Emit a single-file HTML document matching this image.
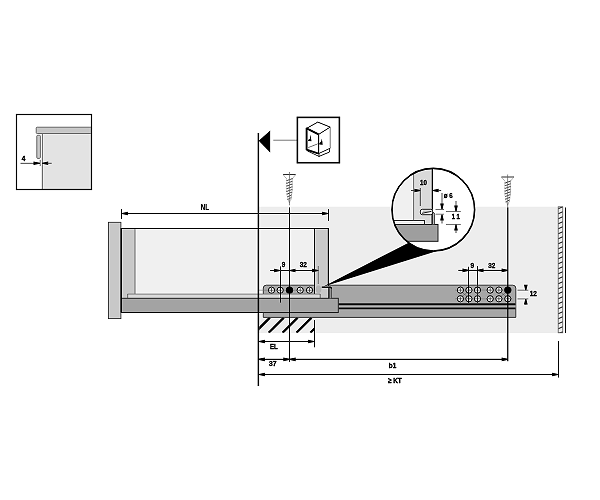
<!DOCTYPE html>
<html><head><meta charset="utf-8"><style>
html,body{margin:0;padding:0;background:#fff;}
svg{display:block;font-family:"Liberation Sans",sans-serif;will-change:transform;}
</style></head><body>
<svg width="600" height="500" viewBox="0 0 600 500">
<defs><filter id="sh" x="0" y="0" width="600" height="500" filterUnits="userSpaceOnUse" color-interpolation-filters="sRGB"><feConvolveMatrix order="3" kernelMatrix="0 -0.16 0 -0.16 1.64 -0.16 0 -0.16 0" preserveAlpha="true"/></filter></defs>
<g filter="url(#sh)"><rect width="600" height="500" fill="#fff"/>
<rect x="42.50" y="133.50" width="49.00" height="56.00" fill="#e3e3e3" stroke="none" stroke-width="1.00" rx="0.00" />
<line x1="42.30" y1="133.50" x2="42.30" y2="189.50" stroke="#666" stroke-width="1.00"/>
<rect x="36.20" y="127.20" width="55.30" height="6.30" fill="#c6c6c6" stroke="#6a6a6a" stroke-width="0.90" rx="1.00" />
<rect x="36.80" y="135.20" width="3.60" height="23.20" fill="#c6c6c6" stroke="#6a6a6a" stroke-width="0.90" rx="1.00" />
<rect x="16.50" y="114.50" width="75.00" height="75.00" fill="none" stroke="#000" stroke-width="1.30" rx="0.00" />
<line x1="20.50" y1="163.30" x2="34.00" y2="163.30" stroke="#333" stroke-width="0.80"/>
<polygon points="40.00,162.75 40.00,163.85 33.50,165.10 33.50,161.50" fill="#000"/>
<line x1="40.20" y1="159.80" x2="40.20" y2="166.00" stroke="#333" stroke-width="0.70"/>
<polygon points="42.20,162.75 42.20,163.85 48.20,165.10 48.20,161.50" fill="#000"/>
<line x1="47.00" y1="163.30" x2="51.70" y2="163.30" stroke="#333" stroke-width="0.80"/>
<text transform="translate(21.80,161.00) scale(0.850,1)" font-size="7.50" font-weight="bold" text-anchor="start" stroke="#000" stroke-width="0.30">4</text>
<rect x="258.50" y="206.70" width="299.50" height="126.30" fill="#ededed" stroke="none" stroke-width="1.00" rx="0.00" />
<polygon points="258.7,140.8 270.2,130.6 270.2,152.6" fill="#000"/>
<line x1="273.30" y1="140.20" x2="297.00" y2="140.20" stroke="#8a8a8a" stroke-width="1.00"/>
<rect x="297.40" y="117.40" width="42.00" height="45.30" fill="none" stroke="#000" stroke-width="1.60" rx="0.00" />
<g fill="none" stroke="#000" stroke-linejoin="round">
<polyline points="306.6,128.4 317.8,122.1 330.2,127.1 318.6,134.4" stroke-width="0.9"/>
<line x1="330.2" y1="127.1" x2="330.2" y2="148.4" stroke-width="0.9" stroke="#777"/>
<line x1="318.6" y1="153.6" x2="330.2" y2="148.2" stroke-width="0.8"/>
<polyline points="318.6,134.4 306.6,128.4 306.6,149.6 318.6,153.6" stroke-width="1.9"/>
<line x1="318.6" y1="134.4" x2="318.6" y2="153.8" stroke-width="1.2"/>
<line x1="308.2" y1="147.6" x2="322.5" y2="142.0" stroke-width="0.6" stroke="#333"/>
<polyline points="307.2,150.8 319.0,156.4 329.6,152.0 329.6,148.4" stroke-width="0.8"/>
<line x1="319.0" y1="153.6" x2="319.0" y2="156.6" stroke-width="0.8"/>
</g>
<polygon points="310.6,134.4 311.5,141.3 308.0,141.0 308.5,139.6 310.0,138.4" fill="#000"/>
<polygon points="321.8,138.4 322.7,144.7 319.2,144.4 319.7,143.0 321.2,141.8" fill="#000"/>
<line x1="283.10" y1="174.60" x2="295.70" y2="174.60" stroke="#444" stroke-width="1.00"/>
<polyline points="283.10,174.60 286.90,179.10"  stroke="#999" stroke-width="0.6" fill="none"/>
<polyline points="295.70,174.60 291.90,179.10"  stroke="#999" stroke-width="0.6" fill="none"/>
<path d="M286.30,180.80 Q289.40,179.60 292.50,178.60" stroke="#555" stroke-width="0.95" fill="none"/>
<path d="M286.30,179.40 L287.10,181.10" stroke="#999" stroke-width="0.7" fill="none"/>
<path d="M292.50,178.70 L291.90,180.80" stroke="#999" stroke-width="0.7" fill="none"/>
<path d="M286.30,183.50 Q289.40,182.30 292.50,181.30" stroke="#555" stroke-width="0.95" fill="none"/>
<path d="M286.30,182.10 L287.10,183.80" stroke="#999" stroke-width="0.7" fill="none"/>
<path d="M292.50,181.40 L291.90,183.50" stroke="#999" stroke-width="0.7" fill="none"/>
<path d="M286.30,186.20 Q289.40,185.00 292.50,184.00" stroke="#555" stroke-width="0.95" fill="none"/>
<path d="M286.30,184.80 L287.10,186.50" stroke="#999" stroke-width="0.7" fill="none"/>
<path d="M292.50,184.10 L291.90,186.20" stroke="#999" stroke-width="0.7" fill="none"/>
<path d="M286.30,188.90 Q289.40,187.70 292.50,186.70" stroke="#555" stroke-width="0.95" fill="none"/>
<path d="M286.30,187.50 L287.10,189.20" stroke="#999" stroke-width="0.7" fill="none"/>
<path d="M292.50,186.80 L291.90,188.90" stroke="#999" stroke-width="0.7" fill="none"/>
<path d="M286.30,191.60 Q289.40,190.40 292.50,189.40" stroke="#555" stroke-width="0.95" fill="none"/>
<path d="M286.30,190.20 L287.10,191.90" stroke="#999" stroke-width="0.7" fill="none"/>
<path d="M292.50,189.50 L291.90,191.60" stroke="#999" stroke-width="0.7" fill="none"/>
<path d="M286.65,194.30 Q289.40,193.10 292.15,192.10" stroke="#555" stroke-width="0.95" fill="none"/>
<path d="M286.65,192.90 L287.45,194.60" stroke="#999" stroke-width="0.7" fill="none"/>
<path d="M292.15,192.20 L291.55,194.30" stroke="#999" stroke-width="0.7" fill="none"/>
<path d="M287.00,197.00 Q289.40,195.80 291.80,194.80" stroke="#555" stroke-width="0.95" fill="none"/>
<path d="M287.00,195.60 L287.80,197.30" stroke="#999" stroke-width="0.7" fill="none"/>
<path d="M291.80,194.90 L291.20,197.00" stroke="#999" stroke-width="0.7" fill="none"/>
<path d="M287.35,199.70 Q289.40,198.50 291.45,197.50" stroke="#555" stroke-width="0.95" fill="none"/>
<path d="M287.35,198.30 L288.15,200.00" stroke="#999" stroke-width="0.7" fill="none"/>
<path d="M291.45,197.60 L290.85,199.70" stroke="#999" stroke-width="0.7" fill="none"/>
<polyline points="288.00,199.30 289.40,202.80 290.80,199.30" stroke="#999" stroke-width="0.6" fill="none"/>
<line x1="289.40" y1="172.00" x2="289.40" y2="205.30" stroke="#666" stroke-width="0.70"/>
<line x1="501.40" y1="177.00" x2="514.00" y2="177.00" stroke="#444" stroke-width="1.00"/>
<polyline points="501.40,177.00 505.20,181.50"  stroke="#999" stroke-width="0.6" fill="none"/>
<polyline points="514.00,177.00 510.20,181.50"  stroke="#999" stroke-width="0.6" fill="none"/>
<path d="M504.60,183.20 Q507.70,182.00 510.80,181.00" stroke="#555" stroke-width="0.95" fill="none"/>
<path d="M504.60,181.80 L505.40,183.50" stroke="#999" stroke-width="0.7" fill="none"/>
<path d="M510.80,181.10 L510.20,183.20" stroke="#999" stroke-width="0.7" fill="none"/>
<path d="M504.60,185.90 Q507.70,184.70 510.80,183.70" stroke="#555" stroke-width="0.95" fill="none"/>
<path d="M504.60,184.50 L505.40,186.20" stroke="#999" stroke-width="0.7" fill="none"/>
<path d="M510.80,183.80 L510.20,185.90" stroke="#999" stroke-width="0.7" fill="none"/>
<path d="M504.60,188.60 Q507.70,187.40 510.80,186.40" stroke="#555" stroke-width="0.95" fill="none"/>
<path d="M504.60,187.20 L505.40,188.90" stroke="#999" stroke-width="0.7" fill="none"/>
<path d="M510.80,186.50 L510.20,188.60" stroke="#999" stroke-width="0.7" fill="none"/>
<path d="M504.60,191.30 Q507.70,190.10 510.80,189.10" stroke="#555" stroke-width="0.95" fill="none"/>
<path d="M504.60,189.90 L505.40,191.60" stroke="#999" stroke-width="0.7" fill="none"/>
<path d="M510.80,189.20 L510.20,191.30" stroke="#999" stroke-width="0.7" fill="none"/>
<path d="M504.60,194.00 Q507.70,192.80 510.80,191.80" stroke="#555" stroke-width="0.95" fill="none"/>
<path d="M504.60,192.60 L505.40,194.30" stroke="#999" stroke-width="0.7" fill="none"/>
<path d="M510.80,191.90 L510.20,194.00" stroke="#999" stroke-width="0.7" fill="none"/>
<path d="M504.95,196.70 Q507.70,195.50 510.45,194.50" stroke="#555" stroke-width="0.95" fill="none"/>
<path d="M504.95,195.30 L505.75,197.00" stroke="#999" stroke-width="0.7" fill="none"/>
<path d="M510.45,194.60 L509.85,196.70" stroke="#999" stroke-width="0.7" fill="none"/>
<path d="M505.30,199.40 Q507.70,198.20 510.10,197.20" stroke="#555" stroke-width="0.95" fill="none"/>
<path d="M505.30,198.00 L506.10,199.70" stroke="#999" stroke-width="0.7" fill="none"/>
<path d="M510.10,197.30 L509.50,199.40" stroke="#999" stroke-width="0.7" fill="none"/>
<path d="M505.65,202.10 Q507.70,200.90 509.75,199.90" stroke="#555" stroke-width="0.95" fill="none"/>
<path d="M505.65,200.70 L506.45,202.40" stroke="#999" stroke-width="0.7" fill="none"/>
<path d="M509.75,200.00 L509.15,202.10" stroke="#999" stroke-width="0.7" fill="none"/>
<polyline points="506.30,201.70 507.70,205.20 509.10,201.70" stroke="#999" stroke-width="0.6" fill="none"/>
<line x1="507.70" y1="174.50" x2="507.70" y2="207.70" stroke="#666" stroke-width="0.70"/>
<rect x="135.00" y="228.30" width="179.30" height="66.00" fill="#f0f0f0" stroke="none" stroke-width="1.00" rx="0.00" />
<rect x="121.30" y="228.30" width="13.70" height="70.00" fill="#c8c8c8" stroke="none" stroke-width="1.00" rx="0.00" />
<line x1="135.00" y1="228.30" x2="135.00" y2="294.00" stroke="#777" stroke-width="1.00"/>
<path d="M263.3,317.4 L263.3,288 Q263.3,285.2 266.3,285.2 L512.8,285.2 Q515.8,285.2 515.8,288.2 L515.8,317.4 Z" fill="#a6a6a6" stroke="#3a3a3a" stroke-width="0.9"/>
<rect x="338.00" y="303.20" width="177.60" height="5.60" fill="#aaaaaa" stroke="none" stroke-width="1.00" rx="0.00" />
<line x1="338.00" y1="304.20" x2="515.60" y2="304.20" stroke="#1a1a1a" stroke-width="1.90"/>
<line x1="338.00" y1="308.40" x2="515.60" y2="308.40" stroke="#1a1a1a" stroke-width="1.60"/>
<line x1="263.30" y1="312.60" x2="338.00" y2="312.60" stroke="#444" stroke-width="0.80"/>
<line x1="259.00" y1="290.20" x2="316.00" y2="290.20" stroke="#777" stroke-width="0.50"/>
<circle cx="271.50" cy="290.20" r="3.1" fill="#fff" stroke="#000" stroke-width="0.95"/>
<line x1="269.10" y1="290.20" x2="273.90" y2="290.20" stroke="#333" stroke-width="0.70"/>
<line x1="271.50" y1="287.80" x2="271.50" y2="292.60" stroke="#333" stroke-width="0.70"/>
<circle cx="280.20" cy="290.20" r="3.1" fill="#fff" stroke="#000" stroke-width="0.95"/>
<line x1="277.80" y1="290.20" x2="282.60" y2="290.20" stroke="#333" stroke-width="0.70"/>
<line x1="280.20" y1="287.80" x2="280.20" y2="292.60" stroke="#333" stroke-width="0.70"/>
<circle cx="300.20" cy="290.20" r="3.1" fill="#fff" stroke="#000" stroke-width="0.95"/>
<line x1="297.80" y1="290.20" x2="302.60" y2="290.20" stroke="#333" stroke-width="0.70"/>
<line x1="300.20" y1="287.80" x2="300.20" y2="292.60" stroke="#333" stroke-width="0.70"/>
<circle cx="309.50" cy="290.20" r="3.1" fill="#fff" stroke="#000" stroke-width="0.95"/>
<line x1="307.10" y1="290.20" x2="311.90" y2="290.20" stroke="#333" stroke-width="0.70"/>
<line x1="309.50" y1="287.80" x2="309.50" y2="292.60" stroke="#333" stroke-width="0.70"/>
<circle cx="289.50" cy="290.20" r="3.6" fill="#000"/>
<line x1="455.00" y1="290.10" x2="512.00" y2="290.10" stroke="#777" stroke-width="0.50"/>
<circle cx="460.40" cy="290.10" r="3.1" fill="#fff" stroke="#000" stroke-width="0.95"/>
<line x1="458.00" y1="290.10" x2="462.80" y2="290.10" stroke="#333" stroke-width="0.70"/>
<line x1="460.40" y1="287.70" x2="460.40" y2="292.50" stroke="#333" stroke-width="0.70"/>
<circle cx="468.90" cy="290.10" r="3.1" fill="#fff" stroke="#000" stroke-width="0.95"/>
<line x1="466.50" y1="290.10" x2="471.30" y2="290.10" stroke="#333" stroke-width="0.70"/>
<line x1="468.90" y1="287.70" x2="468.90" y2="292.50" stroke="#333" stroke-width="0.70"/>
<circle cx="477.50" cy="290.10" r="3.1" fill="#fff" stroke="#000" stroke-width="0.95"/>
<line x1="475.10" y1="290.10" x2="479.90" y2="290.10" stroke="#333" stroke-width="0.70"/>
<line x1="477.50" y1="287.70" x2="477.50" y2="292.50" stroke="#333" stroke-width="0.70"/>
<circle cx="490.20" cy="290.10" r="3.1" fill="#fff" stroke="#000" stroke-width="0.95"/>
<line x1="487.80" y1="290.10" x2="492.60" y2="290.10" stroke="#333" stroke-width="0.70"/>
<line x1="490.20" y1="287.70" x2="490.20" y2="292.50" stroke="#333" stroke-width="0.70"/>
<circle cx="498.90" cy="290.10" r="3.1" fill="#fff" stroke="#000" stroke-width="0.95"/>
<line x1="496.50" y1="290.10" x2="501.30" y2="290.10" stroke="#333" stroke-width="0.70"/>
<line x1="498.90" y1="287.70" x2="498.90" y2="292.50" stroke="#333" stroke-width="0.70"/>
<circle cx="507.80" cy="290.10" r="3.6" fill="#000"/>
<line x1="455.00" y1="298.80" x2="512.00" y2="298.80" stroke="#777" stroke-width="0.50"/>
<circle cx="460.40" cy="298.80" r="3.1" fill="#fff" stroke="#000" stroke-width="0.95"/>
<line x1="458.00" y1="298.80" x2="462.80" y2="298.80" stroke="#333" stroke-width="0.70"/>
<line x1="460.40" y1="296.40" x2="460.40" y2="301.20" stroke="#333" stroke-width="0.70"/>
<circle cx="468.90" cy="298.80" r="3.1" fill="#fff" stroke="#000" stroke-width="0.95"/>
<line x1="466.50" y1="298.80" x2="471.30" y2="298.80" stroke="#333" stroke-width="0.70"/>
<line x1="468.90" y1="296.40" x2="468.90" y2="301.20" stroke="#333" stroke-width="0.70"/>
<circle cx="477.50" cy="298.80" r="3.1" fill="#fff" stroke="#000" stroke-width="0.95"/>
<line x1="475.10" y1="298.80" x2="479.90" y2="298.80" stroke="#333" stroke-width="0.70"/>
<line x1="477.50" y1="296.40" x2="477.50" y2="301.20" stroke="#333" stroke-width="0.70"/>
<circle cx="490.20" cy="298.80" r="3.1" fill="#fff" stroke="#000" stroke-width="0.95"/>
<line x1="487.80" y1="298.80" x2="492.60" y2="298.80" stroke="#333" stroke-width="0.70"/>
<line x1="490.20" y1="296.40" x2="490.20" y2="301.20" stroke="#333" stroke-width="0.70"/>
<circle cx="498.90" cy="298.80" r="3.1" fill="#fff" stroke="#000" stroke-width="0.95"/>
<line x1="496.50" y1="298.80" x2="501.30" y2="298.80" stroke="#333" stroke-width="0.70"/>
<line x1="498.90" y1="296.40" x2="498.90" y2="301.20" stroke="#333" stroke-width="0.70"/>
<circle cx="507.80" cy="298.80" r="3.1" fill="#fff" stroke="#000" stroke-width="0.95"/>
<line x1="505.40" y1="298.80" x2="510.20" y2="298.80" stroke="#333" stroke-width="0.70"/>
<line x1="507.80" y1="296.40" x2="507.80" y2="301.20" stroke="#333" stroke-width="0.70"/>
<line x1="462.10" y1="292.40" x2="467.10" y2="296.40" stroke="#555" stroke-width="0.50"/>
<line x1="462.10" y1="296.40" x2="467.10" y2="292.40" stroke="#555" stroke-width="0.50"/>
<line x1="500.80" y1="292.40" x2="505.80" y2="296.40" stroke="#555" stroke-width="0.50"/>
<line x1="500.80" y1="296.40" x2="505.80" y2="292.40" stroke="#555" stroke-width="0.50"/>
<rect x="314.00" y="228.30" width="14.60" height="70.00" fill="#c9c9c9" stroke="none" stroke-width="1.00" rx="0.00" />
<line x1="314.50" y1="228.30" x2="314.50" y2="294.00" stroke="#222" stroke-width="1.00"/>
<line x1="328.40" y1="228.30" x2="328.40" y2="286.00" stroke="#111" stroke-width="1.20"/>
<line x1="121.00" y1="228.50" x2="329.00" y2="228.50" stroke="#222" stroke-width="1.00"/>
<rect x="127.50" y="294.00" width="192.70" height="4.30" fill="#d6d6d6" stroke="none" stroke-width="1.00" rx="0.00" />
<line x1="127.50" y1="294.10" x2="320.20" y2="294.10" stroke="#777" stroke-width="0.80"/>
<line x1="127.70" y1="294.00" x2="127.70" y2="298.30" stroke="#555" stroke-width="0.80"/>
<line x1="320.20" y1="294.00" x2="320.20" y2="298.30" stroke="#555" stroke-width="0.80"/>
<rect x="121.30" y="298.30" width="217.00" height="14.20" fill="#a3a3a3" stroke="#333" stroke-width="1.00" rx="0.00" />
<rect x="108.40" y="222.30" width="12.50" height="96.30" fill="#c8c8c8" stroke="#444" stroke-width="0.90" rx="0.00" />
<line x1="121.30" y1="228.00" x2="121.30" y2="312.60" stroke="#000" stroke-width="1.40"/>
<ellipse cx="318.5" cy="289.3" rx="2.8" ry="3.8" fill="#b4b4b4"/>
<rect x="328.8" y="287.2" width="2.6" height="11.1" fill="#9a9a9a"/>
<line x1="328.9" y1="288" x2="328.9" y2="298.3" stroke="#000" stroke-width="1.1"/>
<line x1="331.3" y1="288" x2="331.3" y2="298.3" stroke="#333" stroke-width="0.8"/>
<path d="M321.8,287.3 L330.3,287.3 Q331.4,287.5 331.4,288.6" fill="none" stroke="#000" stroke-width="1.4"/>
<clipPath id="hc"><rect x="259.2" y="317.6" width="54.8" height="15.1"/></clipPath>
<g clip-path="url(#hc)">
<line x1="254.80" y1="332.70" x2="269.90" y2="317.60" stroke="#000" stroke-width="2.30"/>
<line x1="268.70" y1="332.70" x2="283.80" y2="317.60" stroke="#000" stroke-width="2.30"/>
<line x1="282.60" y1="332.70" x2="297.70" y2="317.60" stroke="#000" stroke-width="2.30"/>
<line x1="296.50" y1="332.70" x2="311.60" y2="317.60" stroke="#000" stroke-width="2.30"/>
<line x1="310.40" y1="332.70" x2="325.50" y2="317.60" stroke="#000" stroke-width="2.30"/>
</g>
<rect x="558.20" y="206.80" width="4.60" height="126.00" fill="#e8e8e8" stroke="#666" stroke-width="0.80" rx="0.00" />
<clipPath id="wc"><rect x="558.2" y="206.8" width="4.6" height="126"/></clipPath>
<g clip-path="url(#wc)">
<line x1="558.20" y1="208.80" x2="562.80" y2="206.80" stroke="#444" stroke-width="1.10"/>
<line x1="558.20" y1="213.80" x2="562.80" y2="211.80" stroke="#444" stroke-width="1.10"/>
<line x1="558.20" y1="218.80" x2="562.80" y2="216.80" stroke="#444" stroke-width="1.10"/>
<line x1="558.20" y1="223.80" x2="562.80" y2="221.80" stroke="#444" stroke-width="1.10"/>
<line x1="558.20" y1="228.80" x2="562.80" y2="226.80" stroke="#444" stroke-width="1.10"/>
<line x1="558.20" y1="233.80" x2="562.80" y2="231.80" stroke="#444" stroke-width="1.10"/>
<line x1="558.20" y1="238.80" x2="562.80" y2="236.80" stroke="#444" stroke-width="1.10"/>
<line x1="558.20" y1="243.80" x2="562.80" y2="241.80" stroke="#444" stroke-width="1.10"/>
<line x1="558.20" y1="248.80" x2="562.80" y2="246.80" stroke="#444" stroke-width="1.10"/>
<line x1="558.20" y1="253.80" x2="562.80" y2="251.80" stroke="#444" stroke-width="1.10"/>
<line x1="558.20" y1="258.80" x2="562.80" y2="256.80" stroke="#444" stroke-width="1.10"/>
<line x1="558.20" y1="263.80" x2="562.80" y2="261.80" stroke="#444" stroke-width="1.10"/>
<line x1="558.20" y1="268.80" x2="562.80" y2="266.80" stroke="#444" stroke-width="1.10"/>
<line x1="558.20" y1="273.80" x2="562.80" y2="271.80" stroke="#444" stroke-width="1.10"/>
<line x1="558.20" y1="278.80" x2="562.80" y2="276.80" stroke="#444" stroke-width="1.10"/>
<line x1="558.20" y1="283.80" x2="562.80" y2="281.80" stroke="#444" stroke-width="1.10"/>
<line x1="558.20" y1="288.80" x2="562.80" y2="286.80" stroke="#444" stroke-width="1.10"/>
<line x1="558.20" y1="293.80" x2="562.80" y2="291.80" stroke="#444" stroke-width="1.10"/>
<line x1="558.20" y1="298.80" x2="562.80" y2="296.80" stroke="#444" stroke-width="1.10"/>
<line x1="558.20" y1="303.80" x2="562.80" y2="301.80" stroke="#444" stroke-width="1.10"/>
<line x1="558.20" y1="308.80" x2="562.80" y2="306.80" stroke="#444" stroke-width="1.10"/>
<line x1="558.20" y1="313.80" x2="562.80" y2="311.80" stroke="#444" stroke-width="1.10"/>
<line x1="558.20" y1="318.80" x2="562.80" y2="316.80" stroke="#444" stroke-width="1.10"/>
<line x1="558.20" y1="323.80" x2="562.80" y2="321.80" stroke="#444" stroke-width="1.10"/>
<line x1="558.20" y1="328.80" x2="562.80" y2="326.80" stroke="#444" stroke-width="1.10"/>
<line x1="558.20" y1="333.80" x2="562.80" y2="331.80" stroke="#444" stroke-width="1.10"/>
</g>
<line x1="565.40" y1="207.50" x2="565.40" y2="333.00" stroke="#111" stroke-width="1.00"/>
<polygon points="323,286.8 412,240.9 433,210 450,246.9" fill="#000"/>
<clipPath id="cc"><circle cx="433.3" cy="209.7" r="41.3"/></clipPath>
<g clip-path="url(#cc)">
<rect x="380.00" y="160.00" width="110.00" height="100.00" fill="#fff" stroke="none" stroke-width="1.00" rx="0.00" />
<rect x="380.00" y="160.00" width="33.50" height="60.00" fill="#f0f0f0" stroke="none" stroke-width="1.00" rx="0.00" />
<rect x="413.50" y="160.00" width="19.00" height="64.50" fill="#d9d9d9" stroke="none" stroke-width="1.00" rx="0.00" />
<line x1="413.60" y1="160.00" x2="413.60" y2="220.00" stroke="#777" stroke-width="1.00"/>
<line x1="432.30" y1="160.00" x2="432.30" y2="209.80" stroke="#000" stroke-width="1.10"/>
<rect x="380.00" y="220.50" width="44.50" height="4.00" fill="#e9e9e9" stroke="#333" stroke-width="0.90" rx="0.00" />
<rect x="380.00" y="224.50" width="58.00" height="16.80" fill="#9e9e9e" stroke="#333" stroke-width="1.00" rx="0.00" />
<path d="M432.0,224.3 L432.0,212.2 L433.0,212.2 Q434.6,212.4 434.6,214 L434.6,224.3 Z" fill="#aaaaaa" stroke="none"/>
<line x1="432.1" y1="212.4" x2="432.1" y2="224.3" stroke="#000" stroke-width="1.1"/>
<path d="M432.6,212.3 Q434.6,212.5 434.6,214.3 L434.6,224.3" fill="none" stroke="#333" stroke-width="0.8"/>
<rect x="420.4" y="209.3" width="12.2" height="5.4" rx="1.8" fill="#e4e4e4" stroke="#222" stroke-width="0.9"/>
<path d="M422,213.3 L431.5,211.3" fill="none" stroke="#333" stroke-width="1"/>
<path d="M423,211.2 L430,211.2" fill="none" stroke="#777" stroke-width="0.6"/>
<line x1="411.00" y1="190.50" x2="414.50" y2="190.50" stroke="#333" stroke-width="0.80"/>
<polygon points="420.40,189.95 420.40,191.05 414.40,192.30 414.40,188.70" fill="#000"/>
<line x1="420.30" y1="188.00" x2="420.30" y2="206.00" stroke="#333" stroke-width="0.80"/>
<polygon points="432.60,189.95 432.60,191.05 438.60,192.30 438.60,188.70" fill="#000"/>
<line x1="438.00" y1="190.50" x2="441.20" y2="190.50" stroke="#333" stroke-width="0.80"/>
<text transform="translate(420.00,184.70) scale(0.850,1)" font-size="7.20" font-weight="bold" text-anchor="start" stroke="#000" stroke-width="0.30">10</text>
<line x1="442.00" y1="193.00" x2="442.00" y2="204.00" stroke="#333" stroke-width="0.80"/>
<polygon points="441.45,209.50 442.55,209.50 443.80,203.50 440.20,203.50" fill="#000"/>
<line x1="435.50" y1="209.50" x2="444.00" y2="209.50" stroke="#555" stroke-width="0.70"/>
<line x1="435.50" y1="214.20" x2="444.00" y2="214.20" stroke="#555" stroke-width="0.70"/>
<polygon points="441.45,214.40 442.55,214.40 443.80,220.40 440.20,220.40" fill="#000"/>
<line x1="442.00" y1="219.00" x2="442.00" y2="223.50" stroke="#333" stroke-width="0.80"/>
<text transform="translate(443.80,197.50) scale(0.850,1)" font-size="7.20" font-weight="bold" text-anchor="start" stroke="#000" stroke-width="0.30">ø 6</text>
<line x1="456.00" y1="201.00" x2="456.00" y2="206.00" stroke="#333" stroke-width="0.80"/>
<polygon points="455.45,211.60 456.55,211.60 457.80,205.60 454.20,205.60" fill="#000"/>
<line x1="446.00" y1="211.60" x2="460.80" y2="211.60" stroke="#444" stroke-width="0.70"/>
<line x1="446.00" y1="224.40" x2="460.80" y2="224.40" stroke="#444" stroke-width="0.70"/>
<polygon points="455.45,224.40 456.55,224.40 457.80,230.40 454.20,230.40" fill="#000"/>
<line x1="456.00" y1="229.00" x2="456.00" y2="233.00" stroke="#333" stroke-width="0.80"/>
<text transform="translate(451.80,219.20) scale(0.800,1)" font-size="7.20" font-weight="bold" text-anchor="start" stroke="#000" stroke-width="0.30">1 1</text>
</g>
<circle cx="433.3" cy="209.7" r="41.3" fill="none" stroke="#000" stroke-width="1.6"/>
<line x1="258.40" y1="133.00" x2="258.40" y2="386.00" stroke="#000" stroke-width="1.50"/>
<line x1="289.50" y1="207.50" x2="289.50" y2="361.70" stroke="#000" stroke-width="1.10"/>
<line x1="507.80" y1="207.50" x2="507.80" y2="361.30" stroke="#000" stroke-width="1.10"/>
<line x1="280.50" y1="266.50" x2="280.50" y2="302.50" stroke="#000" stroke-width="1.00"/>
<line x1="318.30" y1="266.00" x2="318.30" y2="284.00" stroke="#555" stroke-width="0.70"/>
<line x1="468.50" y1="266.80" x2="468.50" y2="303.00" stroke="#000" stroke-width="1.00"/>
<line x1="477.50" y1="266.00" x2="477.50" y2="303.00" stroke="#333" stroke-width="1.00"/>
<line x1="121.50" y1="213.50" x2="328.50" y2="213.50" stroke="#222" stroke-width="1.00"/>
<line x1="121.50" y1="209.00" x2="121.50" y2="218.80" stroke="#222" stroke-width="1.00"/>
<line x1="328.50" y1="209.00" x2="328.50" y2="221.00" stroke="#222" stroke-width="1.00"/>
<polygon points="121.80,212.95 121.80,214.05 127.80,215.30 127.80,211.70" fill="#000"/>
<polygon points="328.20,212.95 328.20,214.05 322.20,215.30 322.20,211.70" fill="#000"/>
<text transform="translate(200.80,210.10) scale(0.760,1)" font-size="8.20" font-weight="bold" text-anchor="start" stroke="#000" stroke-width="0.15">NL</text>
<line x1="270.00" y1="270.50" x2="318.30" y2="270.50" stroke="#222" stroke-width="1.00"/>
<polygon points="280.20,269.95 280.20,271.05 274.20,272.30 274.20,268.70" fill="#000"/>
<polygon points="289.50,269.95 289.50,271.05 295.50,272.30 295.50,268.70" fill="#000"/>
<polygon points="318.20,269.95 318.20,271.05 312.20,272.30 312.20,268.70" fill="#000"/>
<text transform="translate(281.80,267.40) scale(0.850,1)" font-size="7.50" font-weight="bold" text-anchor="start" stroke="#000" stroke-width="0.30">9</text>
<text transform="translate(299.80,267.40) scale(0.850,1)" font-size="7.50" font-weight="bold" text-anchor="start" stroke="#000" stroke-width="0.30">32</text>
<line x1="458.30" y1="270.40" x2="507.80" y2="270.40" stroke="#222" stroke-width="1.00"/>
<polygon points="468.50,269.85 468.50,270.95 462.50,272.20 462.50,268.60" fill="#000"/>
<polygon points="477.50,269.85 477.50,270.95 483.50,272.20 483.50,268.60" fill="#000"/>
<polygon points="507.60,269.85 507.60,270.95 501.60,272.20 501.60,268.60" fill="#000"/>
<text transform="translate(470.60,268.00) scale(0.850,1)" font-size="7.50" font-weight="bold" text-anchor="start" stroke="#000" stroke-width="0.30">9</text>
<text transform="translate(488.20,268.00) scale(0.850,1)" font-size="7.50" font-weight="bold" text-anchor="start" stroke="#000" stroke-width="0.30">32</text>
<line x1="517.50" y1="290.20" x2="528.30" y2="290.20" stroke="#444" stroke-width="0.70"/>
<line x1="517.50" y1="298.90" x2="528.30" y2="298.90" stroke="#444" stroke-width="0.70"/>
<line x1="525.80" y1="285.00" x2="525.80" y2="286.00" stroke="#222" stroke-width="0.80"/>
<polygon points="525.25,290.20 526.35,290.20 527.60,284.70 524.00,284.70" fill="#000"/>
<polygon points="525.25,298.90 526.35,298.90 527.60,304.40 524.00,304.40" fill="#000"/>
<line x1="525.80" y1="303.00" x2="525.80" y2="304.70" stroke="#222" stroke-width="0.80"/>
<text transform="translate(529.80,296.00) scale(0.850,1)" font-size="7.50" font-weight="bold" text-anchor="start" stroke="#000" stroke-width="0.30">12</text>
<line x1="258.40" y1="341.50" x2="314.30" y2="341.50" stroke="#222" stroke-width="1.00"/>
<line x1="314.50" y1="320.00" x2="314.50" y2="347.30" stroke="#222" stroke-width="1.00"/>
<polygon points="258.80,340.95 258.80,342.05 264.80,343.30 264.80,339.70" fill="#000"/>
<polygon points="314.20,340.95 314.20,342.05 308.20,343.30 308.20,339.70" fill="#000"/>
<text transform="translate(270.00,348.80) scale(0.800,1)" font-size="7.50" font-weight="bold" text-anchor="start" stroke="#000" stroke-width="0.30">EL</text>
<line x1="258.40" y1="359.40" x2="507.80" y2="359.40" stroke="#222" stroke-width="1.10"/>
<polygon points="258.80,358.85 258.80,359.95 264.80,361.20 264.80,357.60" fill="#000"/>
<polygon points="289.30,358.85 289.30,359.95 283.30,361.20 283.30,357.60" fill="#000"/>
<polygon points="289.70,358.85 289.70,359.95 295.70,361.20 295.70,357.60" fill="#000"/>
<polygon points="507.60,358.85 507.60,359.95 501.60,361.20 501.60,357.60" fill="#000"/>
<text transform="translate(269.00,366.00) scale(0.900,1)" font-size="7.50" font-weight="bold" text-anchor="start" stroke="#000" stroke-width="0.30">37</text>
<text transform="translate(388.80,367.90) scale(0.850,1)" font-size="7.50" font-weight="bold" text-anchor="start" stroke="#000" stroke-width="0.30">b1</text>
<line x1="258.40" y1="374.50" x2="558.40" y2="374.50" stroke="#222" stroke-width="1.10"/>
<line x1="558.40" y1="341.00" x2="558.40" y2="377.60" stroke="#222" stroke-width="1.00"/>
<polygon points="258.80,373.95 258.80,375.05 264.80,376.30 264.80,372.70" fill="#000"/>
<polygon points="558.20,373.95 558.20,375.05 552.20,376.30 552.20,372.70" fill="#000"/>
<text transform="translate(388.00,382.90) scale(0.850,1)" font-size="7.50" font-weight="bold" text-anchor="start" stroke="#000" stroke-width="0.30">≥ KT</text>
</g>
</svg>
</body></html>
